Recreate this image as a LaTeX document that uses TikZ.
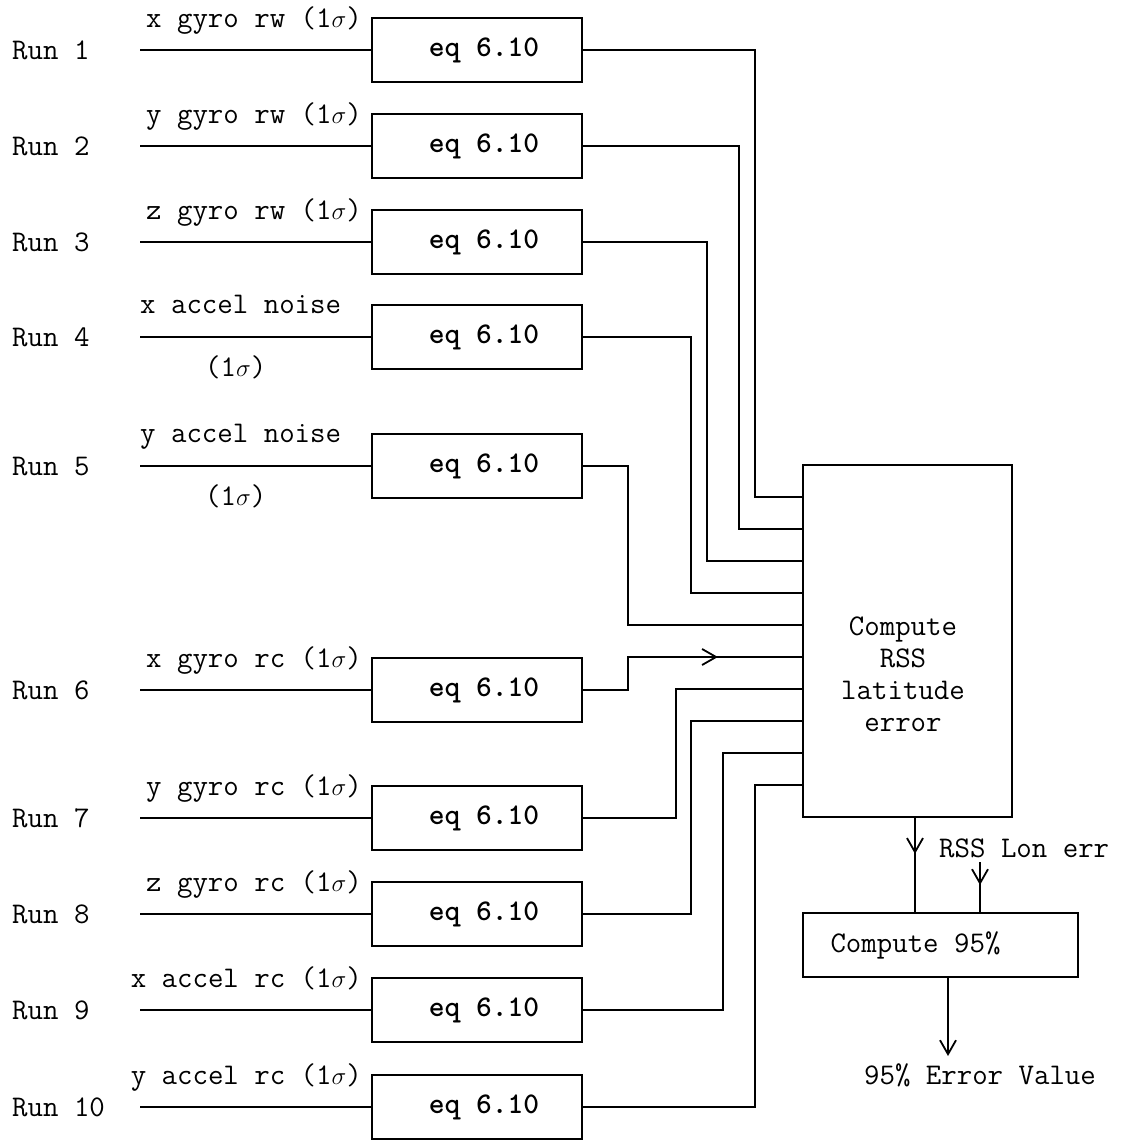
\documentclass[tikz,border=0pt]{standalone}
\usetikzlibrary{arrows.meta,decorations.markings}
\begin{document}
\begin{tikzpicture}[x=1pt,y=-1pt,
  lw/.style={line width=1.8pt},
  txt/.style={font=\fontsize{30}{32}\selectfont\ttfamily, inner sep=0},
  eqbox/.style={draw, lw, minimum width=210pt, minimum height=64pt, inner sep=0,
    font=\fontsize{30}{32}\selectfont\ttfamily\bfseries},
  boxstyle/.style={draw, lw, inner sep=0},
  midarrow/.style={postaction={decorate}, decoration={markings,
    mark=at position #1 with {\arrow{Straight Barb[length=14pt,width=16pt]}}}}
]
\useasboundingbox (0,0) rectangle (1127,1141);

% rows
\foreach \i/\y in {1/50,2/146,3/242,4/337,5/466,6/690,7/818,8/914,9/1010,10/1107}{
  \node[txt, anchor=base west] (run\i) at (12,\y+9) {Run \i};
  \node[eqbox] (eq\i) at (477,\y) {\hspace*{14pt}eq 6.10};
  \coordinate (in\i) at (140,\y);
  \draw[lw] (in\i) -- (eq\i.west);
}

% input labels
\node[txt, anchor=base east] (lab1) at (362,27) {x gyro rw (1$\sigma$)};
\node[txt, anchor=base east] (lab2) at (362,123) {y gyro rw (1$\sigma$)};
\node[txt, anchor=base east] (lab3) at (362,219) {z gyro rw (1$\sigma$)};
\node[txt, anchor=base west] (lab4) at (140,313) {x accel noise};
\node[txt, anchor=base west] (lab4b) at (205,376) {(1$\sigma$)};
\node[txt, anchor=base west] (lab5) at (140,442) {y accel noise};
\node[txt, anchor=base west] (lab5b) at (205,505) {(1$\sigma$)};
\node[txt, anchor=base east] (lab6) at (362,667) {x gyro rc (1$\sigma$)};
\node[txt, anchor=base east] (lab7) at (362,795) {y gyro rc (1$\sigma$)};
\node[txt, anchor=base east] (lab8) at (362,891) {z gyro rc (1$\sigma$)};
\node[txt, anchor=base east] (lab9) at (362,987) {x accel rc (1$\sigma$)};
\node[txt, anchor=base east] (lab10) at (362,1084) {y accel rc (1$\sigma$)};

% compute RSS box
\node[boxstyle, minimum width=209pt, minimum height=352pt] (rss) at (907.5,641) {};
\node[txt, align=center] (rsstxt) at (903,674) {Compute\\RSS\\latitude\\error};

% connectors into RSS
\foreach \i/\x/\k in {1/755/1,2/739/2,3/707/3,4/691/4,5/628/5,7/676/7,8/691/8,9/723/9,10/755/10}{
  \coordinate (bend\i) at (\x,465+32*\k);
  \draw[lw] (eq\i.east) -| (bend\i) -- (bend\i -| rss.west);
}
\coordinate (b6a) at (628,690);
\coordinate (b6b) at (628,657);
\draw[lw, midarrow=168pt] (eq6.east) -- (b6a) -- (b6b) -- (b6b -| rss.west);

% compute 95%
\node[boxstyle, minimum height=64pt, minimum width=275pt,
  font=\fontsize{30}{32}\selectfont\ttfamily] (c95) at (940.5,945) {Compute 95\%\hspace*{50pt}};
\coordinate (dx) at (915,0);
\draw[lw, midarrow=36pt] (rss.south -| dx) -- (c95.north -| dx);

\node[txt, anchor=base west] (lon) at (939,857) {RSS Lon err};
\coordinate (lonend) at (980,862);
\draw[lw, midarrow=23pt] (lonend) -- (c95.north -| lonend);

\node[txt] (ev) at (980,1075) {95\% Error Value};
\coordinate (evtop) at (948,1056);
\draw[lw, -{Straight Barb[length=14pt,width=16pt]}] (c95.south -| evtop) -- (evtop);
\end{tikzpicture}
\end{document}
